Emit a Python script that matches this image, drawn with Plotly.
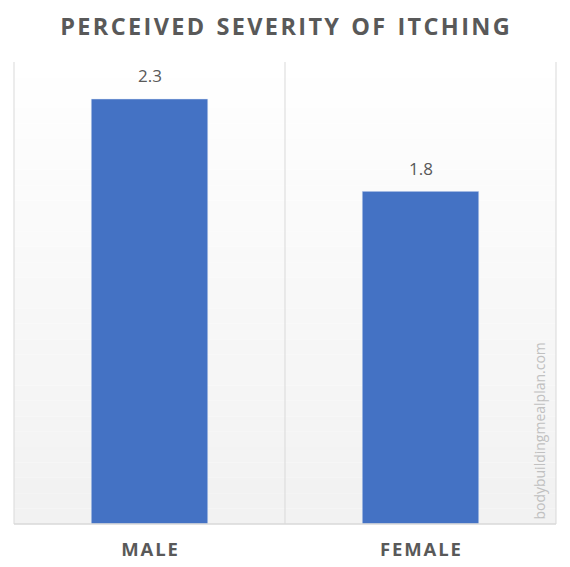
import plotly.graph_objects as go

# Data
categories = ['MALE', 'FEMALE']
severity = [2.3, 1.8]
value_labels = ['2.3', '1.8']

bar_color = '#4472c4'
text_color = '#595959'
line_color = '#d9d9d9'

HS = '\u200a'  # hair space, used to mimic the letter spacing


def spaced(s):
    return HS.join(s).replace(HS + ' ' + HS, '  ')


fig = go.Figure()

fig.add_trace(go.Bar(
    x=categories,
    y=severity,
    marker_color=bar_color,
    width=0.43,
    hoverinfo='x+y'
))

# Gradient background of the plot area (white at top to light gray at bottom)
n_bands = 30
shapes = []
for i in range(n_bands):
    t = i / (n_bands - 1)
    c = int(242 + (255 - 242) * t)
    shapes.append(dict(
        type='rect', xref='x domain', yref='y domain',
        x0=0, x1=1, y0=i / n_bands, y1=(i + 1) / n_bands,
        fillcolor=f'rgb({c},{c},{c})', line=dict(width=0), layer='below'
    ))

# Plot area borders and category divider
for x0 in [0, 0.5, 1]:
    shapes.append(dict(type='line', xref='x domain', yref='y domain',
                       x0=x0, x1=x0, y0=0, y1=1,
                       line=dict(color=line_color, width=1), layer='below'))
shapes.append(dict(type='line', xref='x domain', yref='y domain',
                   x0=0, x1=1, y0=0, y1=0,
                   line=dict(color=line_color, width=1.5), layer='above'))

# Value labels above the bars
annotations = [dict(
    x=c, y=v, text=t, xref='x', yref='y',
    yshift=23, showarrow=False, yanchor='middle',
    font=dict(family='Open Sans', size=17, color=text_color)
) for c, v, t in zip(categories, severity, value_labels)]

# Watermark
annotations.append(dict(
    text='bodybuildingmealplan.com',
    xref='x domain', yref='y domain',
    x=0.9705, y=0.2, xanchor='center', yanchor='middle',
    textangle=-90, showarrow=False,
    font=dict(family='Open Sans', size=14, color='#c0c0c0')
))

# page body has an 8px margin, so the figure is a bit smaller and shifted
fig.update_layout(
    width=562,
    height=559,
    margin=dict(l=6, r=14, t=54, b=43, autoexpand=False),
    paper_bgcolor='white',
    plot_bgcolor='white',
    showlegend=False,
    shapes=shapes,
    annotations=annotations,
    title=dict(
        text=spaced('PERCEIVED SEVERITY OF ITCHING'),
        x=(285 - 8) / 562, xanchor='center', y=(559 - 19) / 559, yanchor='middle',
        font=dict(family='Open Sans', size=23.5, color=text_color, weight=700)
    ),
    xaxis=dict(
        showgrid=False, showline=False, zeroline=False,
        ticks='', ticklabelstandoff=12,
        tickfont=dict(family='Open Sans', size=18.5, color=text_color, weight=700),
        tickvals=categories,
        ticktext=[spaced(c) for c in categories]
    ),
    yaxis=dict(
        range=[0, 2.5],
        showgrid=False, showline=False, zeroline=False,
        showticklabels=False, ticks=''
    )
)

fig.write_html("out.html")
